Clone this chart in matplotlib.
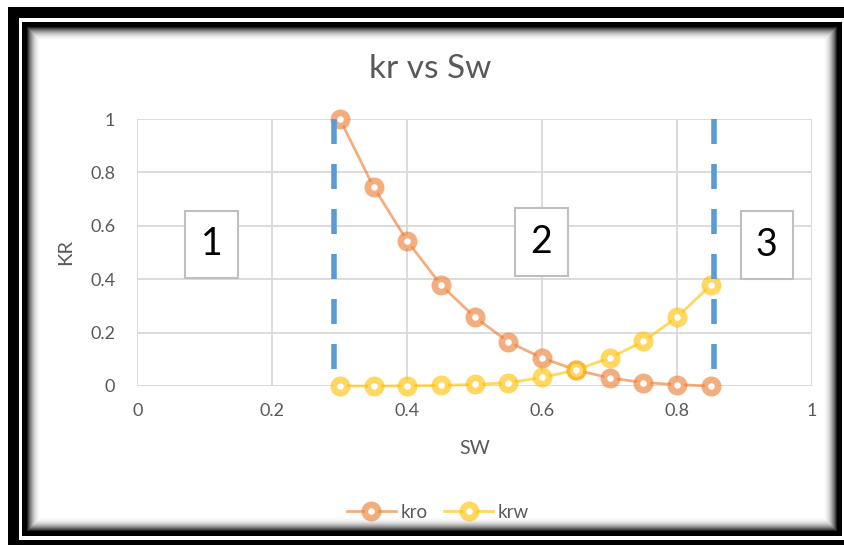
import numpy as np
import matplotlib
matplotlib.use("Agg")
import matplotlib.pyplot as plt
from matplotlib.patches import Rectangle

# ---------------- data ----------------
sw = [0.30, 0.35, 0.40, 0.45, 0.50, 0.55, 0.60, 0.65, 0.70, 0.75, 0.80, 0.85]
kro = [1.0, 0.745, 0.543, 0.378, 0.258, 0.165, 0.105, 0.06, 0.03, 0.013, 0.005, 0.0]
krw = [0.0, 0.0, 0.0005, 0.002, 0.006, 0.012, 0.032, 0.06, 0.105, 0.167, 0.258, 0.378]
boundary_sw = [0.292, 0.854]
boundary_kr = [1.0, 0.0]
region_labels = ["1", "2", "3"]
tick_vals = [0, 0.2, 0.4, 0.6, 0.8, 1.0]
tick_labels = ["0", "0.2", "0.4", "0.6", "0.8", "1"]
title = "kr vs Sw"
xlabel = "SW"
ylabel = "KR"
series_names = ["kro", "krw"]

# ---------------- style ----------------
plt.rcParams['font.family'] = ['Lato', 'DejaVu Sans']
plt.rcParams['lines.scale_dashes'] = False
W, H = 845, 545
TXT = '#595959'
GRID = '#D9D9D9'
ORANGE = (0xED / 255, 0x7D / 255, 0x31 / 255, 0.62)
YELLOW = (0xFF / 255, 0xC0 / 255, 0x00 / 255, 0.62)
BLUE = '#5B9BD5'

fig = plt.figure(figsize=(W / 100, H / 100), dpi=100)

# ---------------- frame decoration ----------------
bg = fig.add_axes([0, 0, 1, 1], zorder=-5)
bg.set_xlim(0, W)
bg.set_ylim(H, 0)
bg.axis('off')
yy, xx = np.mgrid[0:H, 0:W]
img = np.ones((H, W))
img[(xx >= 8) & (yy >= 7)] = 0.0
img[(xx >= 19) & (yy >= 18) & (yy < 540)] = 1.0
img[(xx >= 22) & (yy >= 22) & (xx < 842) & (yy < 536)] = 0.0
inner = (xx >= 26) & (yy >= 26) & (xx < 838) & (yy < 532)
d = np.minimum.reduce([xx - 26, 837 - xx, yy - 26, 531 - yy]).astype(float)
g = 1 - (1 - np.clip(d / 15.0, 0, 1)) ** 2.2
img[inner] = g[inner]
bg.imshow(np.dstack([img, img, img]), extent=(0, W, H, 0), interpolation='nearest', aspect='auto')

# ---------------- chart ----------------
x0, x1, ytop, ybot = 137.5, 812, 119, 386
ax = fig.add_axes([x0 / W, 1 - ybot / H, (x1 - x0) / W, (ybot - ytop) / H])
ax.set_facecolor('none')
ax.set_xlim(0, 1)
ax.set_ylim(0, 1)
ax.set_xticks(tick_vals)
ax.set_xticklabels(tick_labels)
ax.set_yticks(tick_vals)
ax.set_yticklabels(tick_labels)
ax.tick_params(length=0, labelsize=13, labelcolor=TXT)
ax.tick_params(axis='y', pad=16)
ax.tick_params(axis='x', pad=12)
for s in ax.spines.values():
    s.set_visible(False)
ax.grid(True, color=GRID, lw=1.3)
ax.set_axisbelow(True)

l1, = ax.plot(sw, kro, color=ORANGE, lw=2.0, marker='o', ms=9.6, mew=4.8,
              mfc='white', mec=ORANGE, label=series_names[0], zorder=3, clip_on=False)
l2, = ax.plot(sw, krw, color=YELLOW, lw=2.0, marker='o', ms=9.6, mew=4.8,
              mfc='white', mec=YELLOW, label=series_names[1], zorder=3, clip_on=False)
for bx in boundary_sw:
    ax.plot([bx, bx], boundary_kr, color=BLUE, lw=4.0, dashes=(18, 14.4),
            zorder=4, clip_on=False)

# region boxes
box_centers = [(0.110, 0.530), (0.599, 0.539), (0.933, 0.529)]
bw, bh = 52.5 / (x1 - x0), 67.5 / (ybot - ytop)
for lab, (cx, cy) in zip(region_labels, box_centers):
    ax.add_patch(Rectangle((cx - bw / 2, cy - bh / 2), bw, bh, facecolor='white',
                           edgecolor='#BFBFBF', lw=1.5, zorder=5, clip_on=False))
    ax.text(cx, cy, lab, ha='center', va='center', fontsize=27, color='black', zorder=6)

ax.set_xlabel(xlabel, fontsize=14, color=TXT, va='center')
ax.xaxis.set_label_coords(0.5, -(448 - ybot) / (ybot - ytop))
ax.set_ylabel(ylabel, fontsize=14.5, color=TXT, va='center')
ax.yaxis.set_label_coords(-(x0 - 66) / (x1 - x0), (ybot - 252) / (ybot - ytop))

fig.text(430 / W, 1 - 69 / H, title, ha='center', va='center', fontsize=24,
         color=TXT, fontweight='normal')

fig.legend(handles=[l1, l2], loc='center', bbox_to_anchor=(438 / W, 1 - 512 / H),
           ncol=2, frameon=False, fontsize=13.5, labelcolor=TXT, handlelength=2.6,
           handletextpad=0.25, columnspacing=0.9)

fig.savefig('out.png', dpi=100)
